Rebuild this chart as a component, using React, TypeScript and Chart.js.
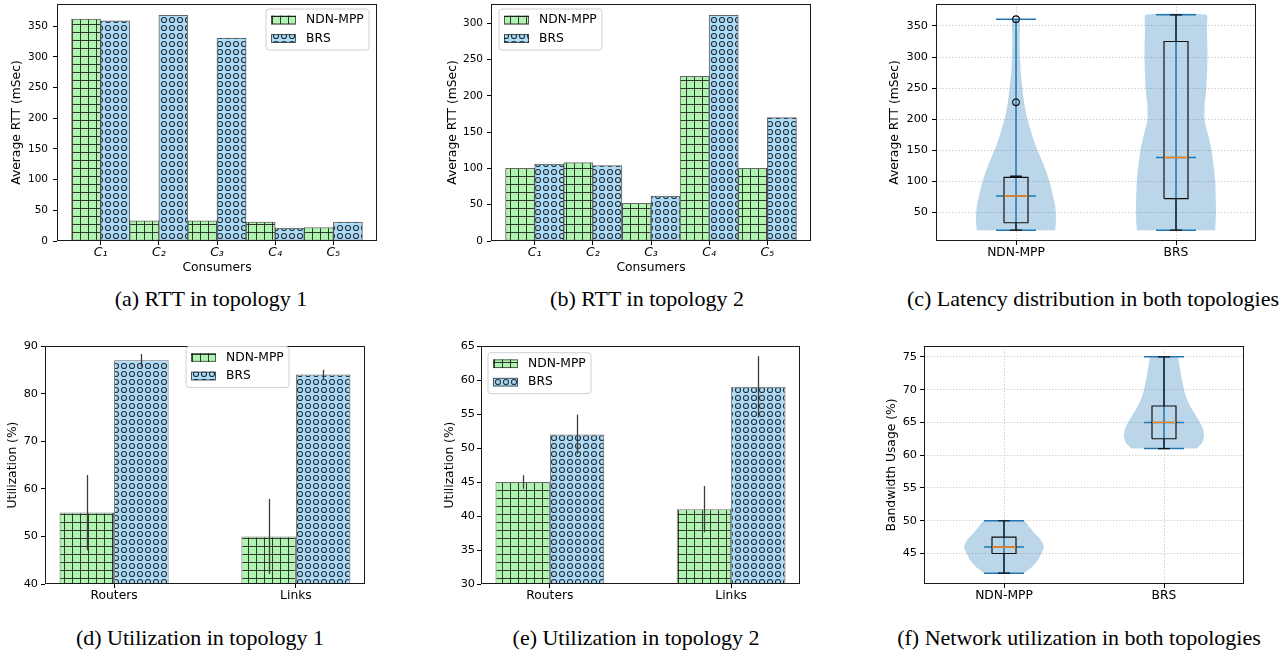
import React, { useEffect, useRef } from 'react';
import { Chart, registerables } from 'chart.js';
Chart.register(...registerables);

// ---------------- data ----------------
const consumers = ['C\u2081', 'C\u2082', 'C\u2083', 'C\u2084', 'C\u2085'];
const rtt1Ndn = [362, 33, 33, 31, 22];
const rtt1Brs = [359, 368, 331, 21, 31];
const rtt2Ndn = [100, 108, 52, 227, 100];
const rtt2Brs = [106, 104, 62, 311, 170];
const rtt1Ticks = [0, 50, 100, 150, 200, 250, 300, 350];
const rtt2Ticks = [0, 50, 100, 150, 200, 250, 300];

const utilCats = ['Routers', 'Links'];
const util1Ndn = [55, 50];
const util1NdnErr = [7.9, 7.9];
const util1Brs = [87, 84];
const util1BrsErr = [1.3, 1];
const util2Ndn = [45, 41];
const util2NdnErr = [1, 3.4];
const util2Brs = [52, 59];
const util2BrsErr = [2.9, 4.5];
const util1Ticks = [40, 50, 60, 70, 80, 90];
const util2Ticks = [30, 35, 40, 45, 50, 55, 60, 65];

const methods = ['NDN-MPP', 'BRS'];
const seriesNames = ['NDN-MPP', 'BRS'];

// (c) latency distribution
const latMin = [21, 21];
const latQ1 = [33, 72];
const latMedian = [76, 138];
const latQ3 = [106, 325];
const latWhisLo = [21, 21];
const latWhisHi = [108, 368];
const latMax = [361, 368];
const latFliers = [[227, 361], []];
const latNdnLevels = [21, 40, 60, 80, 100, 120, 140, 160, 180, 200, 225, 250, 275, 300, 325, 350, 361];
const latNdnWidth = [0.245, 0.25, 0.245, 0.228, 0.209, 0.182, 0.151, 0.119, 0.094, 0.071, 0.052, 0.04, 0.03, 0.025, 0.023, 0.025, 0.021];
const latBrsLevels = [21, 50, 100, 125, 150, 175, 200, 225, 250, 300, 350, 368];
const latBrsWidth = [0.245, 0.25, 0.245, 0.235, 0.222, 0.2, 0.178, 0.18, 0.19, 0.197, 0.193, 0.19];
const latTicks = [50, 100, 150, 200, 250, 300, 350];

// (f) bandwidth usage
const bwMin = [42, 61];
const bwQ1 = [45, 62.5];
const bwMedian = [46, 65];
const bwQ3 = [47.5, 67.5];
const bwMax = [50, 75];
const bwNdnLevels = [42, 43, 44, 45, 46, 47, 48, 49, 50];
const bwNdnWidth = [0.124, 0.176, 0.213, 0.233, 0.25, 0.233, 0.195, 0.16, 0.124];
const bwBrsLevels = [61, 62, 63, 64, 65, 66, 67, 68, 69, 70, 72, 74, 75];
const bwBrsWidth = [0.204, 0.241, 0.25, 0.244, 0.225, 0.2, 0.175, 0.153, 0.137, 0.125, 0.108, 0.094, 0.084];
const bwTicks = [45, 50, 55, 60, 65, 70, 75];

// ---------------- styles ----------------
const FONT = "'DejaVu Sans', sans-serif";
const GREEN = 'rgb(177,243,177)';
const BLUE = 'rgb(171,221,251)';
const HATCH = 'rgba(25,25,25,0.85)';
const EDGE = 'rgba(0,0,0,0.6)';
const C0 = '#1f77b4';

Chart.defaults.font.family = FONT;
Chart.defaults.color = '#000';

function gridPattern(): any {
  const c = document.createElement('canvas');
  c.width = 8; c.height = 8;
  const g = c.getContext('2d')!;
  g.fillStyle = GREEN; g.fillRect(0, 0, 8, 8);
  g.strokeStyle = HATCH; g.lineWidth = 1;
  g.beginPath();
  g.moveTo(0.5, 0); g.lineTo(0.5, 8);
  g.moveTo(0, 0.5); g.lineTo(8, 0.5);
  g.stroke();
  return g.createPattern(c, 'repeat');
}

function circlePattern(): any {
  const c = document.createElement('canvas');
  c.width = 8; c.height = 8;
  const g = c.getContext('2d')!;
  g.fillStyle = BLUE; g.fillRect(0, 0, 8, 8);
  g.strokeStyle = 'rgba(20,20,20,0.85)'; g.lineWidth = 1.1;
  g.beginPath(); g.arc(4, 4, 2.55, 0, Math.PI * 2); g.stroke();
  return g.createPattern(c, 'repeat');
}

type Box = { x: number; y: number; w: number; h: number };
type Plot = { l: number; t: number; r: number; b: number };

function framePlugin(): any {
  return {
    id: 'frame',
    afterDatasetsDraw(chart: any) {
      const { ctx, chartArea: a } = chart;
      ctx.save();
      ctx.strokeStyle = '#1a1a1a';
      ctx.lineWidth = 1;
      ctx.strokeRect(Math.round(a.left) + 0.5, Math.round(a.top) + 0.5, Math.round(a.right - a.left) - 1, Math.round(a.bottom - a.top) - 1);
      ctx.restore();
    },
  };
}

function legendPlugin(x: number, y: number, fills: any[]): any {
  return {
    id: 'mplLegend',
    afterDraw(chart: any) {
      const ctx = chart.ctx;
      const w = 103, h = 41, r = 3;
      ctx.save();
      ctx.beginPath();
      ctx.moveTo(x + r, y);
      ctx.arcTo(x + w, y, x + w, y + h, r);
      ctx.arcTo(x + w, y + h, x, y + h, r);
      ctx.arcTo(x, y + h, x, y, r);
      ctx.arcTo(x, y, x + w, y, r);
      ctx.closePath();
      ctx.fillStyle = 'rgba(255,255,255,0.85)';
      ctx.fill();
      ctx.strokeStyle = '#d0d0d0';
      ctx.lineWidth = 1;
      ctx.stroke();
      seriesNames.forEach((name, i) => {
        const cy = y + 11 + i * 18.5;
        ctx.fillStyle = fills[i];
        ctx.fillRect(x + 5, cy - 4.35, 25, 8.7);
        ctx.strokeStyle = EDGE;
        ctx.strokeRect(x + 5.5, cy - 3.85, 24, 7.7);
        ctx.fillStyle = '#000';
        ctx.font = `12.3px ${FONT}`;
        ctx.textBaseline = 'middle';
        ctx.textAlign = 'left';
        ctx.fillText(name, x + 40, cy);
      });
      ctx.restore();
    },
  };
}

function errPlugin(errs: number[][]): any {
  return {
    id: 'errbars',
    afterDatasetsDraw(chart: any) {
      const ctx = chart.ctx;
      const ys = chart.scales.y;
      ctx.save();
      ctx.strokeStyle = '#3c3c3c';
      ctx.lineWidth = 1.3;
      errs.forEach((arr, di) => {
        const meta = chart.getDatasetMeta(di);
        const ds = chart.data.datasets[di];
        meta.data.forEach((el: any, j: number) => {
          const v = ds.data[j].y;
          const e = arr[j];
          const x = Math.round(el.x) + 0.5;
          ctx.beginPath();
          ctx.moveTo(x, ys.getPixelForValue(v - e));
          ctx.lineTo(x, ys.getPixelForValue(v + e));
          ctx.stroke();
        });
      });
      ctx.restore();
    },
  };
}

function layout(box: Box, plot: Plot) {
  return {
    yW: plot.l - box.x,
    padTop: plot.t - box.y,
    padRight: box.x + box.w - plot.r,
    xH: box.y + box.h - plot.b,
  };
}

const TICKLEN = 4;

function yAxis(box: Box, plot: Plot, o: any) {
  const L = layout(box, plot);
  const titleSize = 12.3;
  return {
    type: 'linear',
    min: o.min,
    max: o.max,
    afterBuildTicks: (s: any) => { s.ticks = o.ticks.map((v: number) => ({ value: v })); },
    afterFit: (s: any) => { s.width = L.yW; },
    ticks: {
      font: { size: o.tickSize ?? 11 },
      padding: o.labelGap - TICKLEN,
      color: '#000',
    },
    grid: o.grid
      ? { display: true, drawOnChartArea: true, color: '#b8b8b8', lineWidth: 0.8, drawTicks: true, tickLength: TICKLEN, tickColor: '#000', tickWidth: 1 }
      : { display: true, drawOnChartArea: false, drawTicks: true, tickLength: TICKLEN, tickColor: '#000', tickWidth: 1 },
    border: { display: false, dash: [1.2, 2] },
    title: {
      display: true,
      text: o.title,
      font: { size: titleSize },
      color: '#000',
      padding: { top: o.titleX - box.x - (titleSize * 1.2) / 2, bottom: 0 },
    },
  };
}

function xAxis(box: Box, plot: Plot, o: any) {
  const L = layout(box, plot);
  const tickSize = o.tickSize ?? 12.3;
  const titleSize = 12.3;
  const ax: any = {
    type: 'linear',
    min: o.min,
    max: o.max,
    offset: false,
    afterBuildTicks: (s: any) => { s.ticks = o.labels.map((_: string, i: number) => ({ value: o.pos[i] })); },
    afterFit: (s: any) => { s.height = L.xH; },
    ticks: {
      font: { size: tickSize, style: o.italic ? 'italic' : 'normal' },
      padding: o.labelY - plot.b - TICKLEN - (tickSize * 1.2) / 2,
      color: '#000',
      maxRotation: 0,
      autoSkip: false,
      callback: (_v: any, i: number) => o.labels[i],
    },
    grid: o.grid
      ? { display: true, offset: false, drawOnChartArea: true, color: '#b8b8b8', lineWidth: 0.8, drawTicks: true, tickLength: TICKLEN, tickColor: '#000', tickWidth: 1 }
      : { display: true, offset: false, drawOnChartArea: false, drawTicks: true, tickLength: TICKLEN, tickColor: '#000', tickWidth: 1 },
    border: { display: false, dash: [1.2, 2] },
    title: { display: false },
  };
  if (o.title) {
    ax.title = {
      display: true,
      text: o.title,
      font: { size: titleSize },
      color: '#000',
      padding: { top: 0, bottom: box.y + box.h - o.titleY - (titleSize * 1.2) / 2 },
    };
  }
  return ax;
}

function baseOptions(box: Box, plot: Plot, scales: any) {
  const L = layout(box, plot);
  return {
    animation: false,
    responsive: false,
    maintainAspectRatio: false,
    devicePixelRatio: 1,
    layout: { padding: { left: 0, top: L.padTop, right: L.padRight, bottom: 0 } },
    plugins: { legend: { display: false }, tooltip: { enabled: false }, title: { display: false } },
    scales,
  };
}

function barConfig(o: any) {
  const { box, plot } = o;
  const gp = gridPattern();
  const cp = circlePattern();
  const mk = (vals: number[], fill: any) => ({
    data: vals.map((v, i) => ({ x: i, y: v })),
    backgroundColor: fill,
    borderColor: EDGE,
    borderWidth: 1,
    borderSkipped: false,
    categoryPercentage: o.catPct,
    barPercentage: 1,
    grouped: true,
  });
  const plugins: any[] = [framePlugin(), legendPlugin(o.legX - box.x, o.legY - box.y, [gp, cp])];
  if (o.errs) plugins.unshift(errPlugin(o.errs));
  return {
    type: 'bar',
    data: { datasets: [mk(o.ndn, gp), mk(o.brs, cp)] },
    options: baseOptions(box, plot, {
      x: xAxis(box, plot, { min: o.xMin, max: o.xMax, labels: o.cats, pos: o.cats.map((_: any, i: number) => i), labelY: o.labelY, italic: o.italic, tickSize: o.xTickSize, title: o.xTitle, titleY: o.xTitleY }),
      y: yAxis(box, plot, { min: o.yMin, max: o.yMax, ticks: o.yTicks, title: o.yTitle, titleX: o.yTitleX, labelGap: o.labelGap, tickSize: o.yTickSize }),
    }),
    plugins,
  };
}

function seg(points: number[][][]) {
  const out: any[] = [];
  points.forEach((line) => {
    line.forEach(([x, y]) => out.push({ x, y }));
    out.push({ x: line[0][0], y: null });
  });
  return out;
}

function violinConfig(o: any) {
  const { box, plot } = o;
  const pos = [1, 2];
  const bodies = o.levels.map((lv: number[], k: number) => {
    const w = o.widths[k];
    const right = lv.map((y, i) => ({ x: pos[k] + w[i], y }));
    const left = lv.map((y, i) => ({ x: pos[k] - w[i], y })).reverse();
    return {
      data: [...right, ...left],
      fill: 'shape',
      backgroundColor: 'rgba(31,119,180,0.3)',
      borderWidth: 0,
      borderColor: 'rgba(0,0,0,0)',
      pointRadius: 0,
      tension: 0.2,
      order: 6,
    };
  });
  const blue: number[][][] = [];
  const black: number[][][] = [];
  const orange: number[][][] = [];
  const fl: any[] = [];
  pos.forEach((p, k) => {
    blue.push([[p, o.mins[k]], [p, o.maxs[k]]]);
    [o.mins[k], o.maxs[k], o.meds[k]].forEach((v) => blue.push([[p - 0.125, v], [p + 0.125, v]]));
    black.push([[p - 0.075, o.q1s[k]], [p + 0.075, o.q1s[k]], [p + 0.075, o.q3s[k]], [p - 0.075, o.q3s[k]], [p - 0.075, o.q1s[k]]]);
    black.push([[p, o.q1s[k]], [p, o.wlo[k]]]);
    black.push([[p, o.q3s[k]], [p, o.whi[k]]]);
    black.push([[p - 0.0375, o.wlo[k]], [p + 0.0375, o.wlo[k]]]);
    black.push([[p - 0.0375, o.whi[k]], [p + 0.0375, o.whi[k]]]);
    orange.push([[p - 0.075, o.meds[k]], [p + 0.075, o.meds[k]]]);
    (o.fliers[k] || []).forEach((v: number) => fl.push({ x: p, y: v }));
  });
  const lineDs = (data: any[], color: string, width: number, order: number) => ({
    data, borderColor: color, borderWidth: width, pointRadius: 0, fill: false, tension: 0, spanGaps: false, order,
  });
  const datasets: any[] = [
    { data: fl, showLine: false, pointRadius: 3.3, pointBorderWidth: 1.1, pointBorderColor: '#000', pointBackgroundColor: 'rgba(0,0,0,0)', borderColor: '#000', order: 1 },
    lineDs(seg(orange), '#ff7f0e', 1.4, 2),
    lineDs(seg(black), '#111', 1.2, 3),
    lineDs(seg(blue), C0, 1.5, 4),
    ...bodies,
  ];
  return {
    type: 'line',
    data: { datasets },
    options: baseOptions(box, plot, {
      x: xAxis(box, plot, { min: 0.5, max: 2.5, labels: methods, pos, labelY: o.labelY, grid: true }),
      y: yAxis(box, plot, { min: o.yMin, max: o.yMax, ticks: o.yTicks, title: o.yTitle, titleX: o.yTitleX, labelGap: o.labelGap, grid: true, tickSize: 11.3 }),
    }),
    plugins: [framePlugin()],
  };
}

// ---------------- panels ----------------
const panels: { box: Box; make: () => any }[] = [
  {
    box: { x: 0, y: -8, w: 385, h: 285 },
    make: () => barConfig({
      box: { x: 0, y: -8, w: 385, h: 285 }, plot: { l: 57, t: 4, r: 377, b: 241 },
      cats: consumers, ndn: rtt1Ndn, brs: rtt1Brs, catPct: 1, xMin: -0.75, xMax: 4.75,
      yMin: 0, yMax: 386.4, yTicks: rtt1Ticks, yTitle: 'Average RTT (mSec)', yTitleX: 17, labelGap: 9,
      yTickSize: 10.5, italic: true, xTickSize: 12.5, labelY: 253, xTitle: 'Consumers', xTitleY: 268,
      legX: 266, legY: 9,
    }),
  },
  {
    box: { x: 430, y: -8, w: 390, h: 285 },
    make: () => barConfig({
      box: { x: 430, y: -8, w: 390, h: 285 }, plot: { l: 491, t: 4, r: 811, b: 241 },
      cats: consumers, ndn: rtt2Ndn, brs: rtt2Brs, catPct: 1, xMin: -0.75, xMax: 4.75,
      yMin: 0, yMax: 326.6, yTicks: rtt2Ticks, yTitle: 'Average RTT (mSec)', yTitleX: 453, labelGap: 8,
      yTickSize: 10.5, italic: true, xTickSize: 12.5, labelY: 253, xTitle: 'Consumers', xTitleY: 268,
      legX: 499, legY: 9,
    }),
  },
  {
    box: { x: 850, y: -8, w: 436, h: 285 },
    make: () => violinConfig({
      box: { x: 850, y: -8, w: 436, h: 285 }, plot: { l: 936, t: 4, r: 1256, b: 241 },
      levels: [latNdnLevels, latBrsLevels], widths: [latNdnWidth, latBrsWidth],
      mins: latMin, maxs: latMax, q1s: latQ1, q3s: latQ3, meds: latMedian, wlo: latWhisLo, whi: latWhisHi, fliers: latFliers,
      yMin: 3.6, yMax: 385.4, yTicks: latTicks, yTitle: 'Average RTT (mSec)', yTitleX: 895, labelGap: 8, labelY: 253,
    }),
  },
  {
    box: { x: 0, y: 322, w: 380, h: 288 },
    make: () => barConfig({
      box: { x: 0, y: 322, w: 380, h: 288 }, plot: { l: 45, t: 346, r: 365, b: 584 },
      cats: utilCats, ndn: util1Ndn, brs: util1Brs, catPct: 0.6, xMin: -0.38, xMax: 1.38,
      yMin: 40, yMax: 90, yTicks: util1Ticks, yTitle: 'Utilization (%)', yTitleX: 13, labelGap: 7,
      yTickSize: 11.3, labelY: 595.7, legX: 186, legY: 346.5, errs: [util1NdnErr, util1BrsErr],
    }),
  },
  {
    box: { x: 430, y: 322, w: 390, h: 288 },
    make: () => barConfig({
      box: { x: 430, y: 322, w: 390, h: 288 }, plot: { l: 481, t: 346, r: 800, b: 584 },
      cats: utilCats, ndn: util2Ndn, brs: util2Brs, catPct: 0.6, xMin: -0.38, xMax: 1.38,
      yMin: 30, yMax: 65, yTicks: util2Ticks, yTitle: 'Utilization (%)', yTitleX: 450, labelGap: 6,
      yTickSize: 11.3, labelY: 595.7, legX: 488, legY: 352.7, errs: [util2NdnErr, util2BrsErr],
    }),
  },
  {
    box: { x: 850, y: 322, w: 436, h: 288 },
    make: () => violinConfig({
      box: { x: 850, y: 322, w: 436, h: 288 }, plot: { l: 924, t: 346, r: 1244, b: 584 },
      levels: [bwNdnLevels, bwBrsLevels], widths: [bwNdnWidth, bwBrsWidth],
      mins: bwMin, maxs: bwMax, q1s: bwQ1, q3s: bwQ3, meds: bwMedian, wlo: bwMin, whi: bwMax, fliers: [[], []],
      yMin: 40.35, yMax: 76.65, yTicks: bwTicks, yTitle: 'Bandwidth Usage (%)', yTitleX: 892, labelGap: 7, labelY: 595.7,
    }),
  },
];

const captions = [
  { text: '(a) RTT in topology 1', cx: 211, base: 306 },
  { text: '(b) RTT in topology 2', cx: 647, base: 306 },
  { text: '(c) Latency distribution in both topologies', cx: 1093, base: 306 },
  { text: '(d) Utilization in topology 1', cx: 200, base: 645 },
  { text: '(e) Utilization in topology 2', cx: 636, base: 645 },
  { text: '(f) Network utilization in both topologies', cx: 1079, base: 645 },
];

function Panel({ box, make }: { box: Box; make: () => any }) {
  const ref = useRef<HTMLCanvasElement | null>(null);
  useEffect(() => {
    const chart = new Chart(ref.current as HTMLCanvasElement, make());
    return () => chart.destroy();
  }, []);
  return (
    <div style={{ position: 'absolute', left: box.x, top: box.y, width: box.w, height: box.h }}>
      <canvas ref={ref} width={box.w} height={box.h} style={{ display: 'block', width: box.w, height: box.h }} />
    </div>
  );
}

export default function App() {
  return (
    <div style={{ position: 'absolute', left: 0, top: 0, width: 1286, height: 656, overflow: 'hidden', background: '#fff' }}>
      {panels.map((p, i) => <Panel key={i} box={p.box} make={p.make} />)}
      {captions.map((c, i) => (
        <div key={'c' + i} style={{
          position: 'absolute', left: c.cx - 250, width: 500, top: c.base - 20.4, textAlign: 'center',
          fontFamily: "'Liberation Serif', 'Times New Roman', serif", fontSize: 22, lineHeight: '26px', color: '#000', whiteSpace: 'nowrap',
        }}>{c.text}</div>
      ))}
    </div>
  );
}
